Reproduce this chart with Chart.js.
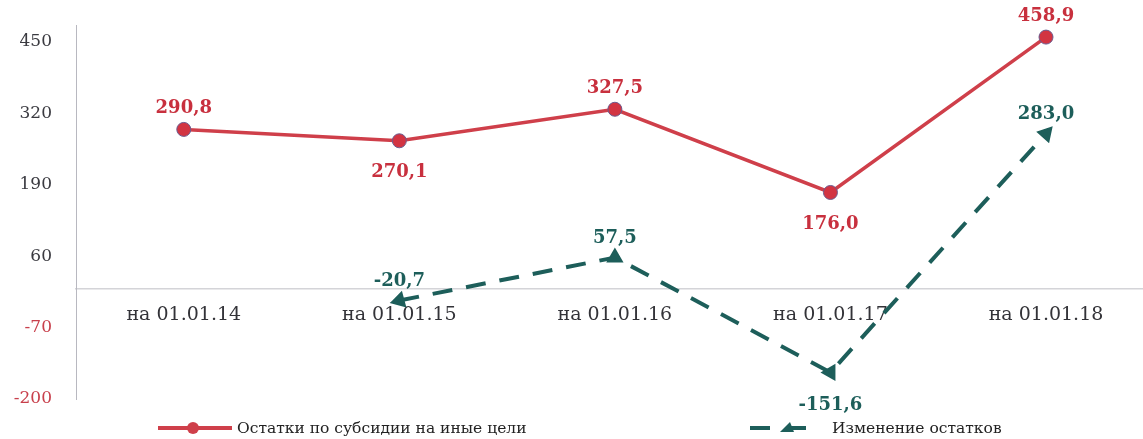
<!DOCTYPE html>
<html lang="ru">
<head>
<meta charset="utf-8">
<script src="https://cdn.jsdelivr.net/npm/chart.js@4/dist/chart.umd.min.js"></script>
<style>
    html, body {
        margin: 0;
        padding: 0;
        background: #fff;
        overflow: hidden;
    }
    canvas {
        display: block;
    }
</style>
</head>
<body>
<canvas id="restChart" width="1143" height="439"></canvas>
<script>
const categories = ['на 01.01.14', 'на 01.01.15', 'на 01.01.16', 'на 01.01.17', 'на 01.01.18']
const restValues = [290.8, 270.1, 327.5, 176.0, 458.9]
const changeValues = [null, -20.7, 57.5, -151.6, 283.0]
const yTicks = [-200, -70, 60, 190, 320, 450]
const seriesNames = ['Остатки по субсидии на иные цели', 'Изменение остатков']

const RED = '#cf3f4a'
const RED_TEXT = '#c8303e'
const TEAL = '#1d5e5a'
const SERIF = '"DejaVu Serif", serif'

// where the value label sits relative to each point
const labelSide = [
    ['up', 'down', 'up', 'down', 'up'],
    [null, 'up', 'up', 'down', 'up'],
]
// vertical distance from the point, per series: [up, down]
const labelGap = [
    [-21, 32],
    [-19, 33],
]

const fmt = (v) => v.toFixed(1).replace('.', ',')

// categories sit on whole x values 0..n-1
const toPoints = (values) =>
    values.map((v, i) => ({ x: i, y: v })).filter((p) => p.y !== null)

const valueLabels = {
    id: 'valueLabels',
    afterDatasetsDraw(chart) {
        const ctx = chart.ctx
        ctx.save()
        ctx.font = 'bold 18px ' + SERIF
        ctx.textAlign = 'center'
        ctx.textBaseline = 'middle'
        chart.data.datasets.forEach((ds, di) => {
            const meta = chart.getDatasetMeta(di)
            ctx.fillStyle = di === 0 ? RED_TEXT : TEAL
            meta.data.forEach((pt, i) => {
                const p = ds.data[i]
                const dy = labelSide[di][p.x] === 'up' ? labelGap[di][0] : labelGap[di][1]
                ctx.fillText(fmt(p.y), pt.x, pt.y + dy)
            })
        })
        ctx.restore()
    },
}

// legend drawn by hand so the two entries can sit far apart
const bottomLegend = {
    id: 'bottomLegend',
    afterDraw(chart) {
        const ctx = chart.ctx
        const y = 428
        ctx.save()
        // first entry: solid line with round marker
        ctx.strokeStyle = RED
        ctx.lineWidth = 4
        ctx.beginPath()
        ctx.moveTo(158, y)
        ctx.lineTo(232, y)
        ctx.stroke()
        ctx.fillStyle = RED
        ctx.beginPath()
        ctx.arc(193, y, 6, 0, Math.PI * 2)
        ctx.fill()
        // second entry: dashed line with triangle
        ctx.strokeStyle = TEAL
        ctx.beginPath()
        ctx.moveTo(750, y)
        ctx.lineTo(770, y)
        ctx.moveTo(786, y)
        ctx.lineTo(806, y)
        ctx.stroke()
        ctx.fillStyle = TEAL
        ctx.beginPath()
        ctx.moveTo(780, y + 4)
        ctx.lineTo(790, y - 6)
        ctx.lineTo(794, y + 4)
        ctx.closePath()
        ctx.fill()

        ctx.font = '15.5px ' + SERIF
        ctx.fillStyle = '#222'
        ctx.textBaseline = 'middle'
        ctx.textAlign = 'left'
        ctx.fillText(seriesNames[0], 237, y + 1)
        ctx.fillText(seriesNames[1], 832, y + 1)
        ctx.restore()
    },
}

new Chart(document.getElementById('restChart').getContext('2d'), {
    type: 'line',
    data: {
        datasets: [
            {
                label: seriesNames[0],
                data: toPoints(restValues),
                borderColor: RED,
                borderWidth: 3.5,
                pointRadius: 7,
                pointBackgroundColor: '#d23442',
                pointBorderColor: '#6b5b8e',
                pointBorderWidth: 1,
                tension: 0,
            },
            {
                label: seriesNames[1],
                data: toPoints(changeValues),
                borderColor: TEAL,
                borderWidth: 4,
                borderDash: [20, 14],
                pointStyle: 'triangle',
                pointRadius: 6,
                pointRotation: [255, 0, 30, 42],
                pointBackgroundColor: TEAL,
                pointBorderColor: TEAL,
                tension: 0,
            },
        ],
    },
    options: {
        responsive: false,
        animation: false,
        layout: {
            autoPadding: false,
            padding: { top: 25.5, bottom: 40, left: 0, right: 0 },
        },
        plugins: {
            legend: { display: false },
            tooltip: { enabled: false },
        },
        scales: {
            x: {
                type: 'linear',
                // the last category runs slightly past the right edge
                min: -0.5,
                max: 4.45,
                position: { y: 0 },
                afterBuildTicks(scale) {
                    scale.ticks = categories.map((c, i) => ({ value: i }))
                },
                afterFit(scale) {
                    scale.paddingLeft = 0
                    scale.paddingRight = 0
                },
                grid: { display: false, drawTicks: false },
                border: { display: true, color: '#d4d4d8', width: 1.5 },
                ticks: {
                    autoSkip: false,
                    maxRotation: 0,
                    color: '#333338',
                    padding: 15,
                    font: { family: SERIF, size: 19 },
                    callback: (v) => categories[v],
                },
            },
            y: {
                min: -200,
                max: 480,
                afterBuildTicks(scale) {
                    scale.ticks = yTicks.map((v) => ({ value: v }))
                },
                afterFit(scale) {
                    scale.width = 76
                    scale.paddingTop = 0
                    scale.paddingBottom = 0
                },
                grid: { display: false, drawTicks: false },
                border: { display: true, color: '#b8b8c0', width: 1 },
                ticks: {
                    padding: 24,
                    color: (c) => (c.tick.value < 0 ? '#c8404c' : '#3a3a40'),
                    font: { family: SERIF, size: 17 },
                },
            },
        },
    },
    plugins: [valueLabels, bottomLegend],
})
</script>
</body>
</html>
